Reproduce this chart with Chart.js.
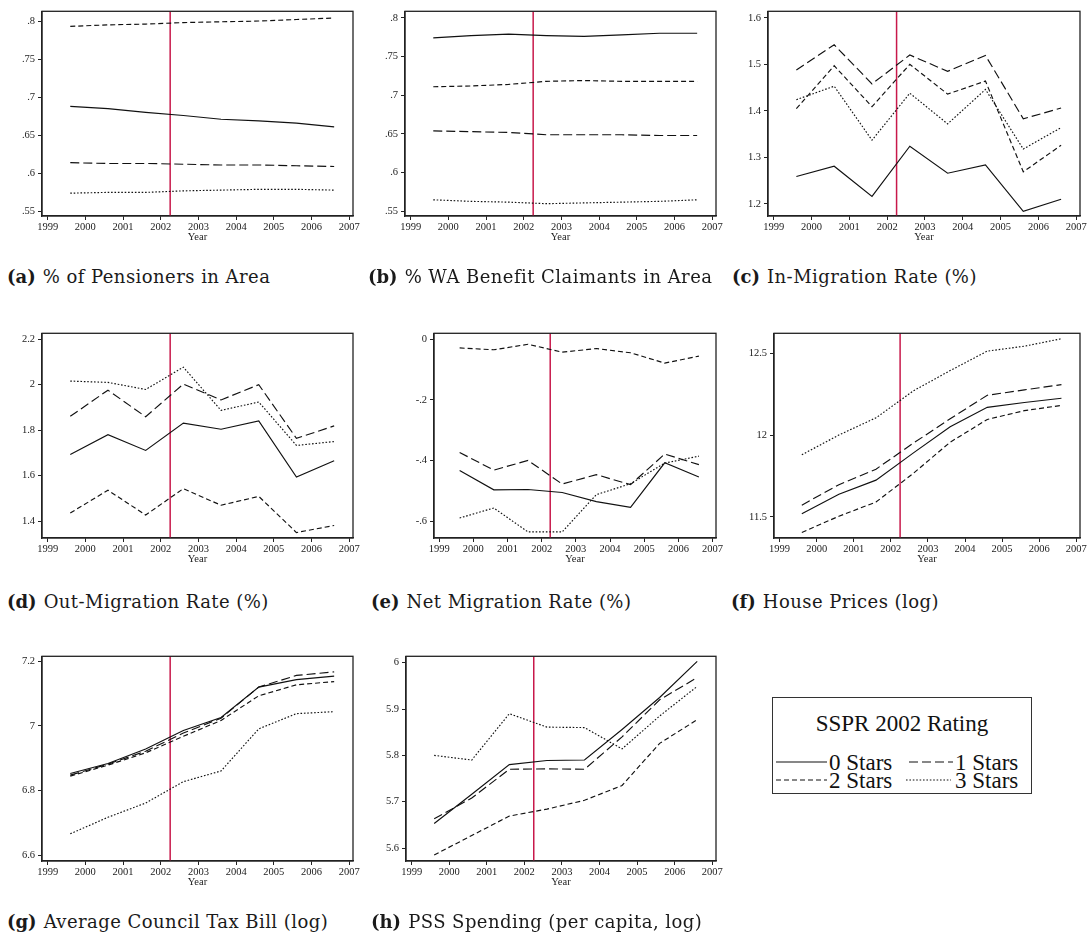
<!DOCTYPE html>
<html>
<head>
<meta charset="utf-8">
<script src="https://cdn.jsdelivr.net/npm/chart.js@4.4.1/dist/chart.umd.min.js"></script>
<style>
  html, body { margin: 0; padding: 0; background: #fff; }
  body { position: relative; width: 1091px; height: 935px; overflow: hidden; }
  canvas { position: absolute; }
  .cap { position: absolute; font-family: "DejaVu Serif", serif; font-size: 18px; line-height: 20px; letter-spacing: 0.45px; color: #1a1a1a; white-space: nowrap; }
  .cap b { margin-right: 7px; letter-spacing: 0; }
  .legend { position: absolute; left: 772px; top: 697px; width: 260px; height: 97px; border: 1px solid #333; box-sizing: border-box; }
  .lg { position: absolute; font-family: "Liberation Serif", "Times New Roman", Times, serif; font-size: 23px; line-height: 23px; color: #111; white-space: nowrap; }
  svg.key { position: absolute; overflow: visible; }
</style>
</head>
<body>
<div id="legend" class="legend"></div>
<script>
// Survey years (mid-year observation points) and axis tick years
const years = [1999.6, 2000.6, 2001.6, 2002.6, 2003.6, 2004.6, 2005.6, 2006.6];
const yearTicks = [1999, 2000, 2001, 2002, 2003, 2004, 2005, 2006, 2007];
const ratingYear = 2002.25;
const starLabels = ['0 Stars', '1 Stars', '2 Stars', '3 Stars'];

// (a) % of Pensioners in Area
const pensioners0 = [0.688, 0.685, 0.680, 0.676, 0.671, 0.669, 0.666, 0.661];
const pensioners1 = [0.614, 0.613, 0.613, 0.612, 0.611, 0.611, 0.610, 0.609];
const pensioners2 = [0.793, 0.795, 0.796, 0.798, 0.799, 0.800, 0.802, 0.804];
const pensioners3 = [0.574, 0.575, 0.575, 0.577, 0.578, 0.579, 0.579, 0.578];
const shareTicks = [0.55, 0.6, 0.65, 0.7, 0.75, 0.8];
const shareTickLabels = ['.55', '.6', '.65', '.7', '.75', '.8'];

// (b) % WA Benefit Claimants in Area
const claimants0 = [0.774, 0.777, 0.779, 0.777, 0.776, 0.778, 0.780, 0.780];
const claimants1 = [0.654, 0.653, 0.652, 0.649, 0.649, 0.649, 0.648, 0.648];
const claimants2 = [0.711, 0.712, 0.714, 0.718, 0.719, 0.718, 0.718, 0.718];
const claimants3 = [0.565, 0.563, 0.562, 0.560, 0.561, 0.562, 0.563, 0.565];

// (c) In-Migration Rate (%)
const inMig0 = [1.259, 1.281, 1.216, 1.324, 1.266, 1.284, 1.184, 1.210];
const inMig1 = [1.488, 1.542, 1.458, 1.520, 1.485, 1.519, 1.383, 1.406];
const inMig2 = [1.405, 1.497, 1.409, 1.500, 1.436, 1.464, 1.269, 1.326];
const inMig3 = [1.424, 1.453, 1.337, 1.438, 1.372, 1.446, 1.318, 1.364];
const inMigTicks = [1.2, 1.3, 1.4, 1.5, 1.6];
const inMigTickLabels = ['1.2', '1.3', '1.4', '1.5', '1.6'];

// (d) Out-Migration Rate (%)
const outMig0 = [1.693, 1.780, 1.711, 1.831, 1.804, 1.841, 1.594, 1.666];
const outMig1 = [1.861, 1.976, 1.859, 2.003, 1.933, 2.000, 1.764, 1.819];
const outMig2 = [1.436, 1.536, 1.427, 1.543, 1.470, 1.509, 1.350, 1.381];
const outMig3 = [2.016, 2.010, 1.979, 2.077, 1.887, 1.924, 1.733, 1.750];
const outMigTicks = [1.4, 1.6, 1.8, 2, 2.2];
const outMigTickLabels = ['1.4', '1.6', '1.8', '2', '2.2'];

// (e) Net Migration Rate (%)
const netMig0 = [-0.433, -0.497, -0.496, -0.506, -0.536, -0.555, -0.408, -0.455];
const netMig1 = [-0.374, -0.432, -0.400, -0.478, -0.447, -0.480, -0.379, -0.414];
const netMig2 = [-0.029, -0.035, -0.017, -0.043, -0.031, -0.045, -0.079, -0.056];
const netMig3 = [-0.590, -0.557, -0.636, -0.636, -0.513, -0.477, -0.409, -0.386];
const netMigTicks = [-0.6, -0.4, -0.2, 0];
const netMigTickLabels = ['-.6', '-.4', '-.2', '0'];

// (f) House Prices (log)
const housePrice0 = [11.520, 11.639, 11.725, 11.890, 12.051, 12.170, 12.200, 12.226];
const housePrice1 = [11.572, 11.697, 11.792, 11.950, 12.100, 12.244, 12.277, 12.309];
const housePrice2 = [11.405, 11.504, 11.591, 11.765, 11.957, 12.096, 12.150, 12.182];
const housePrice3 = [11.880, 12.001, 12.106, 12.270, 12.395, 12.514, 12.544, 12.590];
const houseTicks = [11.5, 12, 12.5];
const houseTickLabels = ['11.5', '12', '12.5'];

// (g) Average Council Tax Bill (log)
const councilTax0 = [6.853, 6.884, 6.929, 6.986, 7.026, 7.120, 7.143, 7.154];
const councilTax1 = [6.848, 6.882, 6.922, 6.978, 7.024, 7.120, 7.156, 7.167];
const councilTax2 = [6.845, 6.879, 6.917, 6.968, 7.017, 7.093, 7.127, 7.137];
const councilTax3 = [6.667, 6.718, 6.762, 6.828, 6.861, 6.991, 7.038, 7.044];
const taxTicks = [6.6, 6.8, 7, 7.2];
const taxTickLabels = ['6.6', '6.8', '7', '7.2'];

// (h) PSS Spending (per capita, log)
const pss0 = [5.653, 5.716, 5.780, 5.789, 5.790, 5.856, 5.925, 6.003];
const pss1 = [5.663, 5.708, 5.770, 5.771, 5.770, 5.840, 5.920, 5.968];
const pss2 = [5.585, 5.627, 5.669, 5.684, 5.703, 5.735, 5.826, 5.877];
const pss3 = [5.800, 5.790, 5.890, 5.861, 5.860, 5.814, 5.885, 5.949];
const pssTicks = [5.6, 5.7, 5.8, 5.9, 6];
const pssTickLabels = ['5.6', '5.7', '5.8', '5.9', '6'];

// Line styles per rating group
const starDashes = [[], [9, 4], [5, 3], [1.6, 1.8]];
const lineColor = '#111';
const ratingColor = '#c8194b';
const axisColor = '#222';
const tickFont = { family: "'Liberation Serif', 'Times New Roman', Times, serif", size: 10.5 };

// Plot-box placement on the page: [left, top, right, bottom]
const panels = [
  { key: 'a', box: [42, 6, 353, 216], series: [pensioners0, pensioners1, pensioners2, pensioners3], y: [0.544, 0.8128], ticks: shareTicks, labels: shareTickLabels, title: '% of Pensioners in Area', cap: [7, 267] },
  { key: 'b', box: [405, 6, 716, 216], series: [claimants0, claimants1, claimants2, claimants3], y: [0.5441, 0.8084], ticks: shareTicks, labels: shareTickLabels, title: '% WA Benefit Claimants in Area', cap: [368, 267] },
  { key: 'c', box: [768, 6, 1080, 216], series: [inMig0, inMig1, inMig2, inMig3], y: [1.174, 1.614], ticks: inMigTicks, labels: inMigTickLabels, title: 'In-Migration Rate (%)', cap: [732, 267] },
  { key: 'd', box: [42, 328, 353, 538], series: [outMig0, outMig1, outMig2, outMig3], y: [1.326, 2.226], ticks: outMigTicks, labels: outMigTickLabels, title: 'Out-Migration Rate (%)', cap: [7, 592] },
  { key: 'e', box: [434, 328, 716, 538], series: [netMig0, netMig1, netMig2, netMig3], y: [-0.656, 0.0193], ticks: netMigTicks, labels: netMigTickLabels, title: 'Net Migration Rate (%)', cap: [371, 592] },
  { key: 'f', box: [774, 328, 1080, 538], series: [housePrice0, housePrice1, housePrice2, housePrice3], y: [11.371, 12.623], ticks: houseTicks, labels: houseTickLabels, title: 'House Prices (log)', cap: [731, 592] },
  { key: 'g', box: [42, 651, 353, 861], series: [councilTax0, councilTax1, councilTax2, councilTax3], y: [6.583, 7.215], ticks: taxTicks, labels: taxTickLabels, title: 'Average Council Tax Bill (log)', cap: [7, 912] },
  { key: 'h', box: [406, 651, 716, 861], series: [pss0, pss1, pss2, pss3], y: [5.572, 6.0139], ticks: pssTicks, labels: pssTickLabels, title: 'PSS Spending (per capita, log)', cap: [371, 912] }
];

// Frame around each plot region
const framePlugin = {
  id: 'frame',
  afterDraw(chart) {
    const { ctx, chartArea: a } = chart;
    ctx.save();
    ctx.strokeStyle = axisColor;
    ctx.lineWidth = 1.3;
    ctx.strokeRect(a.left, a.top, a.right - a.left, a.bottom - a.top);
    ctx.restore();
  }
};

const YW = 44, XH = 28, PT = 4, PR = 14;

panels.forEach(p => {
  const [l, t, r, b] = p.box;
  const cv = document.createElement('canvas');
  const w = (r - l) + YW + PR;
  const h = (b - t) + PT + XH;
  cv.width = w; cv.height = h;
  cv.style.left = (l - YW) + 'px';
  cv.style.top = (t - PT) + 'px';
  cv.style.width = w + 'px';
  cv.style.height = h + 'px';
  document.body.appendChild(cv);

  const datasets = p.series.map((vals, i) => ({
    label: starLabels[i],
    data: years.map((x, k) => ({ x, y: vals[k] })),
    borderColor: lineColor,
    borderWidth: 1.15,
    borderDash: starDashes[i],
    pointRadius: 0,
    tension: 0,
    fill: false
  }));
  datasets.push({
    label: 'SSPR 2002',
    data: [{ x: ratingYear, y: p.y[0] }, { x: ratingYear, y: p.y[1] }],
    borderColor: ratingColor,
    borderWidth: 1.5,
    pointRadius: 0,
    fill: false
  });

  new Chart(cv, {
    type: 'line',
    data: { datasets },
    plugins: [framePlugin],
    options: {
      responsive: false,
      animation: false,
      devicePixelRatio: 1,
      layout: { padding: { left: 0, top: PT, right: PR, bottom: 0 } },
      plugins: { legend: { display: false }, tooltip: { enabled: false } },
      scales: {
        x: {
          type: 'linear',
          min: 1998.85,
          max: 2007.1,
          afterBuildTicks: s => { s.ticks = yearTicks.map(v => ({ value: v })); },
          afterFit: s => { s.height = XH; },
          ticks: { font: tickFont, color: axisColor, padding: 1, maxRotation: 0, autoSkip: false, callback: v => String(v) },
          grid: { drawOnChartArea: false, drawTicks: true, tickLength: 4, color: axisColor, lineWidth: 1 },
          border: { display: true, color: axisColor, width: 1.3 },
          title: { display: true, text: 'Year', font: tickFont, color: axisColor, padding: 0 }
        },
        y: {
          type: 'linear',
          min: p.y[0],
          max: p.y[1],
          afterBuildTicks: s => { s.ticks = p.ticks.map(v => ({ value: v })); },
          afterFit: s => { s.width = YW; },
          ticks: { font: tickFont, color: axisColor, padding: 3, autoSkip: false, callback: (v, i) => p.labels[i] },
          grid: { drawOnChartArea: false, drawTicks: true, tickLength: 4, color: axisColor, lineWidth: 1 },
          border: { display: true, color: axisColor, width: 1.3 }
        }
      }
    }
  });

  const cap = document.createElement('div');
  cap.className = 'cap';
  cap.style.left = p.cap[0] + 'px';
  cap.style.top = p.cap[1] + 'px';
  cap.innerHTML = '<b>(' + p.key + ')</b>' + p.title;
  document.body.appendChild(cap);
});

// Shared legend for the rating groups
(function buildLegend() {
  const lg = document.getElementById('legend');
  const ox = 772, oy = 697;
  const addText = (txt, x, y, center) => {
    const d = document.createElement('div');
    d.className = 'lg';
    d.textContent = txt;
    d.style.top = (y - oy) + 'px';
    if (center) { d.style.left = '0px'; d.style.width = '100%'; d.style.textAlign = 'center'; }
    else d.style.left = (x - ox) + 'px';
    lg.appendChild(d);
  };
  const addKey = (i, x1, x2, y) => {
    const ns = 'http://www.w3.org/2000/svg';
    const s = document.createElementNS(ns, 'svg');
    s.setAttribute('class', 'key');
    s.setAttribute('width', x2 - x1);
    s.setAttribute('height', 4);
    s.style.left = (x1 - ox) + 'px';
    s.style.top = (y - oy - 2) + 'px';
    const ln = document.createElementNS(ns, 'line');
    ln.setAttribute('x1', 0); ln.setAttribute('x2', x2 - x1);
    ln.setAttribute('y1', 2); ln.setAttribute('y2', 2);
    ln.setAttribute('stroke', lineColor);
    ln.setAttribute('stroke-width', 1.05);
    if (starDashes[i].length) ln.setAttribute('stroke-dasharray', starDashes[i].join(' '));
    s.appendChild(ln);
    lg.appendChild(s);
  };
  addText('SSPR 2002 Rating', 0, 711, true);
  addKey(0, 775, 826, 761);
  addText(starLabels[0], 828, 750);
  addKey(1, 908, 952, 761);
  addText(starLabels[1], 954, 750);
  addKey(2, 775, 826, 779);
  addText(starLabels[2], 828, 768);
  addKey(3, 905, 950, 779);
  addText(starLabels[3], 954, 768);
})();
</script>
</body>
</html>
